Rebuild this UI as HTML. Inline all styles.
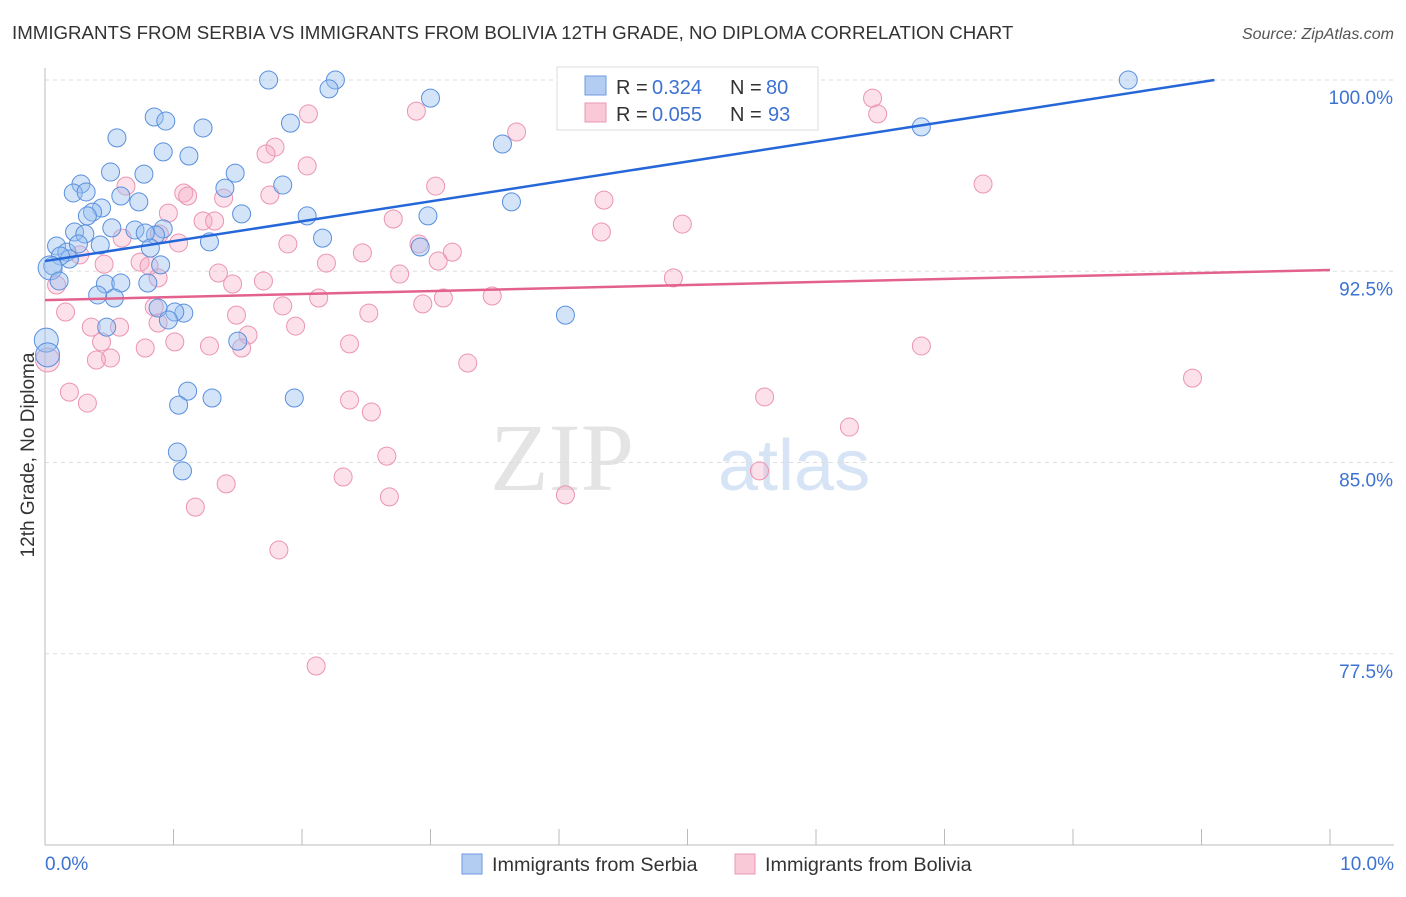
<!DOCTYPE html>
<html><head><meta charset="utf-8">
<style>
body{margin:0;background:#fff;font-family:"Liberation Sans",sans-serif;}
svg text{font-family:"Liberation Sans",sans-serif;}
</style></head>
<body>
<svg id="chart" width="1406" height="892" viewBox="0 0 1406 892" xmlns="http://www.w3.org/2000/svg">
<text x="12" y="39" font-size="18.7" fill="#333">IMMIGRANTS FROM SERBIA VS IMMIGRANTS FROM BOLIVIA 12TH GRADE, NO DIPLOMA CORRELATION CHART</text>
<text x="1394" y="39" font-size="16" fill="#555" font-style="italic" text-anchor="end">Source: ZipAtlas.com</text>
<g>
<text x="634" y="490" font-size="96" fill="#e4e4e4" text-anchor="end" font-family="Liberation Serif" style="font-family:'Liberation Serif',serif">ZIP</text>
<text x="718" y="490" font-size="72" fill="#d6e4f5">atlas</text>
</g>
<g id="grid"></g>
<g id="axes"></g>
<g id="pts"></g>
<g id="lines"></g>
<text transform="translate(34,455) rotate(-90)" font-size="19" fill="#333" text-anchor="middle">12th Grade, No Diploma</text>
<text x="45" y="870" font-size="19" fill="#3d72d1">0.0%</text>
<text x="1394" y="870" font-size="19" fill="#3d72d1" text-anchor="end">10.0%</text>
<g>
<rect x="557" y="67" width="261" height="63" fill="#fff" stroke="#ddd"/>
<rect x="585" y="76" width="21" height="19" fill="#b3cdf2" stroke="#6d9be0"/>
<text x="616" y="94" font-size="20" fill="#333">R = </text>
<text x="652" y="94" font-size="20" fill="#3d72d1">0.324</text>
<text x="730" y="94" font-size="20" fill="#333">N = </text>
<text x="766" y="94" font-size="20" fill="#3d72d1">80</text>
<rect x="585" y="103" width="21" height="19" fill="#f9c9d7" stroke="#ea98b2"/>
<text x="616" y="121" font-size="20" fill="#333">R = </text>
<text x="652" y="121" font-size="20" fill="#3d72d1">0.055</text>
<text x="730" y="121" font-size="20" fill="#333">N = </text>
<text x="768" y="121" font-size="20" fill="#3d72d1">93</text>
</g>
<g>
<rect x="462" y="854" width="20" height="20" fill="#b3cdf2" stroke="#6d9be0"/>
<text x="492" y="871" font-size="19.8" fill="#333">Immigrants from Serbia</text>
<rect x="735" y="854" width="20" height="20" fill="#f9c9d7" stroke="#ea98b2"/>
<text x="765" y="871" font-size="19.8" fill="#333">Immigrants from Bolivia</text>
</g>
</svg>
<script>
const yTicks=[100,92.5,85,77.5];
const yTickLabels=["100.0%","92.5%","85.0%","77.5%"];
const xTicks=[0,1,2,3,4,5,6,7,8,9,10];
const serbiaX=[1.74,2.26,2.21,3.00,0.85,0.94,1.23,1.91,0.56,3.56,0.92,1.12,0.51,0.77,1.48,1.85,0.28,0.22,0.32,1.40,0.59,0.73,3.63,0.44,0.37,0.33,1.53,2.04,2.98,0.52,0.70,0.92,0.86,0.23,0.31,0.78,1.28,0.43,0.09,0.17,0.26,0.82,2.16,2.92,0.19,0.12,0.06,0.90,0.04,0.11,0.47,0.59,0.80,0.54,0.41,1.08,1.01,0.88,0.96,0.48,1.50,4.05,1.11,1.30,1.04,1.94,1.03,1.07,8.43,6.82,0.01,0.02];
const serbiaY=[100.0,100.0,99.65,99.29,98.55,98.39,98.12,98.31,97.73,97.49,97.18,97.02,96.39,96.31,96.35,95.88,95.92,95.57,95.61,95.76,95.45,95.22,95.22,94.98,94.82,94.67,94.75,94.67,94.67,94.20,94.12,94.16,93.92,94.04,93.96,94.00,93.65,93.53,93.49,93.25,93.57,93.41,93.80,93.45,92.98,93.10,92.71,92.75,92.63,92.12,92.00,92.04,92.04,91.45,91.57,90.86,90.90,91.06,90.59,90.31,89.76,90.78,87.80,87.53,87.25,87.53,85.41,84.67,100.0,98.16,89.80,89.22];
const boliviaX=[4.09,6.44,2.89,2.05,6.48,3.67,1.79,1.72,2.04,0.63,1.08,1.75,1.11,1.39,3.04,7.30,4.35,0.96,2.71,1.23,1.32,4.96,4.33,1.04,0.60,0.89,1.89,2.91,3.17,2.47,3.06,0.27,0.74,2.19,0.46,0.81,0.88,1.35,1.46,1.70,2.76,4.89,0.09,2.13,3.48,3.10,2.94,1.85,0.85,1.49,2.52,0.16,0.36,0.58,0.88,1.95,1.58,1.01,1.28,0.44,0.78,1.53,2.37,0.51,0.40,6.82,3.29,8.93,0.19,0.33,2.37,2.54,5.60,6.26,2.66,2.32,1.41,4.05,2.68,5.56,1.17,1.82,2.11,0.02];
const boliviaY=[99.29,99.29,98.78,98.67,98.67,97.96,97.37,97.10,96.63,95.84,95.57,95.49,95.45,95.37,95.84,95.92,95.29,94.78,94.55,94.47,94.47,94.35,94.04,93.61,93.80,93.96,93.57,93.57,93.25,93.22,92.90,93.14,92.86,92.82,92.78,92.71,92.24,92.43,92.00,92.12,92.39,92.24,91.96,91.45,91.53,91.45,91.22,91.14,91.10,90.78,90.86,90.90,90.31,90.31,90.47,90.35,90.00,89.73,89.57,89.73,89.49,89.49,89.65,89.10,89.02,89.57,88.90,88.31,87.76,87.33,87.45,86.98,87.57,86.39,85.25,84.43,84.16,83.73,83.65,84.67,83.25,81.57,77.02,89.02];
const serbiaTrend=[[0,92.9],[9.1,100]];
const boliviaTrend=[[0,91.37],[10,92.55]];

const NS="http://www.w3.org/2000/svg";
const X0=45,X1=1330,Y0=80,Y1=845;
function xs(v){return X0+(v-0)/10*(X1-X0);}
function ys(v){return Y0+(100-v)/30*(Y1-Y0);}
function mk(tag,attrs,parent){const e=document.createElementNS(NS,tag);for(const k in attrs)e.setAttribute(k,attrs[k]);parent.appendChild(e);return e;}

const grid=document.getElementById('grid');
yTicks.forEach((t,i)=>{
  const l=mk('line',{x1:X0,x2:1394,y1:ys(t),y2:ys(t),stroke:'#ddd','stroke-dasharray':'4,4'},grid);
  
  
  const tx=mk('text',{x:1393,y:ys(t)+24,'font-size':19,fill:'#3d72d1','text-anchor':'end'},grid);
  tx.textContent=yTickLabels[i];
  
  
});
const axes=document.getElementById('axes');
const ya=mk('line',{x1:X0,x2:X0,y1:68,y2:Y1,stroke:'#bbb'},axes);


const xa=mk('line',{x1:X0,x2:1394,y1:Y1,y2:Y1,stroke:'#bbb'},axes);


xTicks.forEach(t=>{
  const tk=mk('line',{x1:xs(t),x2:xs(t),y1:829,y2:Y1,stroke:'#bbb'},axes);
  
  
});
const pts=document.getElementById('pts');
function drawPts(X,Y,fill,stroke,name){
  X.forEach((v,i)=>{
    const edge=v<0.05;
    const c=mk('circle',{cx:xs(v),cy:ys(Y[i]),r:edge?12:9,fill:fill,stroke:stroke,'stroke-width':1},pts);
    
    
  });
}
drawPts(boliviaX,boliviaY,'rgba(246,170,196,0.35)','#eb94b1','bolivia-point');
drawPts(serbiaX,serbiaY,'rgba(150,190,240,0.42)','#5a8fdd','serbia-point');
const lines=document.getElementById('lines');
const bl=mk('line',{x1:xs(serbiaTrend[0][0]),y1:ys(serbiaTrend[0][1]),x2:xs(serbiaTrend[1][0]),y2:ys(serbiaTrend[1][1]),stroke:'#2566d8','stroke-width':2.5},lines);


const pl=mk('line',{x1:xs(boliviaTrend[0][0]),y1:ys(boliviaTrend[0][1]),x2:xs(boliviaTrend[1][0]),y2:ys(boliviaTrend[1][1]),stroke:'#e3628d','stroke-width':2.5},lines);


</script>
</body></html>
